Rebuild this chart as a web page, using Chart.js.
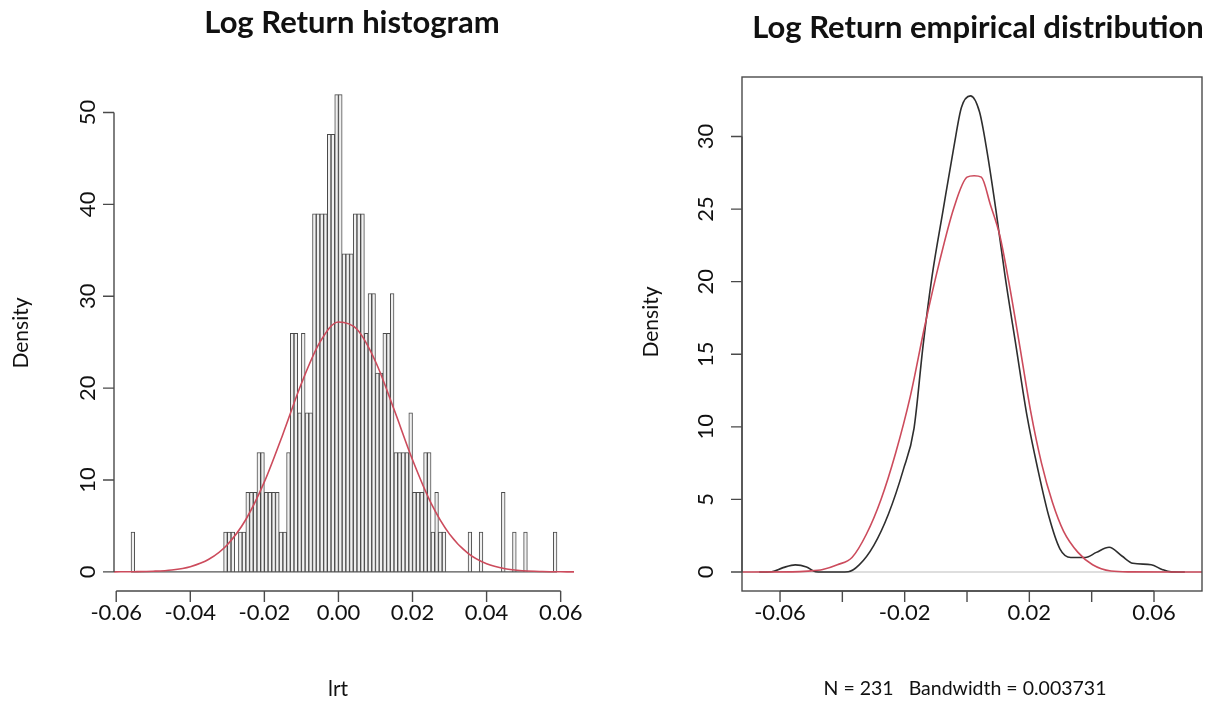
<!DOCTYPE html>
<html>
<head>
<meta charset="utf-8">
<title>Log Return</title>
<script src="https://cdn.jsdelivr.net/npm/chart.js@4/dist/chart.umd.min.js"></script>
<style>
  body { margin: 0; background: #fff; }
  #wrap { position: relative; width: 1216px; height: 704px; }
  .pane { position: absolute; top: 0; width: 608px; height: 704px; }
</style>
</head>
<body>
<div id="wrap">
  <div class="pane" style="left:0"><canvas id="histChart"></canvas></div>
  <div class="pane" style="left:608px"><canvas id="densChart"></canvas></div>
</div>
<script>
// ---- left panel: histogram of lrt (bins of 0.001 from -0.056) ----
const binStart = -0.056;
const binWidth = 0.001;
const histDensity = [
  4.33, 0, 0, 0, 0, 0, 0, 0, 0, 0, 0, 0, 0, 0, 0, 0, 0, 0, 0, 0, 0, 0, 0, 0, 0,
  4.33, 4.33, 4.33, 0, 4.33, 4.33, 8.66, 8.66, 8.66, 12.99, 12.99, 8.66, 8.66, 8.66, 8.66,
  4.33, 4.33, 12.99, 25.97, 25.97, 17.32, 25.97, 17.32, 17.32, 38.96, 38.96, 38.96, 38.96,
  47.62, 47.62, 51.95, 51.95, 34.63, 34.63, 34.63, 38.96, 38.96, 38.96, 25.97, 30.3, 30.3,
  21.65, 21.65, 25.97, 25.97, 30.3, 12.99, 12.99, 12.99, 12.99, 17.32, 8.66, 8.66, 8.66,
  12.99, 12.99, 4.33, 8.66, 4.33, 4.33,
  0, 0, 0, 0, 0, 0, 4.33, 0, 0, 4.33, 0, 0, 0, 0, 0, 8.66, 0, 0, 4.33, 0, 0, 4.33,
  0, 0, 0, 0, 0, 0, 0, 4.33
];
const binCenters = histDensity.map((_, i) => +(binStart + binWidth * (i + 0.5)).toFixed(4));

// red fitted normal curve over the histogram
const normX = [-0.0606, -0.055, -0.05, -0.045, -0.04, -0.035, -0.03, -0.025, -0.02, -0.015, -0.01, -0.005,
  0, 0.005, 0.01, 0.015, 0.02, 0.025, 0.03, 0.035, 0.04, 0.045, 0.05, 0.055, 0.06, 0.0636];
const normY = [0.004, 0.02, 0.07, 0.21, 0.57, 1.37, 2.96, 5.7, 9.79, 14.99, 20.5, 25.0,
  27.2, 26.4, 22.9, 17.7, 12.2, 7.49, 4.11, 2.01, 0.88, 0.34, 0.12, 0.04, 0.01, 0.005];

const histXTicks = [-0.06, -0.04, -0.02, 0, 0.02, 0.04, 0.06];
const histXLabels = ['-0.06', '-0.04', '-0.02', '0.00', '0.02', '0.04', '0.06'];
const histYTicks = [0, 10, 20, 30, 40, 50];

// ---- right panel: kernel density (black) and normal fit (red) ----
const kdeX = [-0.0667, -0.0627, -0.059, -0.0551, -0.0515, -0.0486, -0.044, -0.0381, -0.0346, -0.0299,
  -0.0252, -0.0205, -0.017, -0.0141, -0.0112, -0.0077, -0.0042, -0.0018, 0.0011, 0.004, 0.0064,
  0.0093, 0.0122, 0.0157, 0.0193, 0.0228, 0.0263, 0.0298, 0.0333, 0.038, 0.0415, 0.0456, 0.0497,
  0.0532, 0.0591, 0.0626, 0.0655, 0.0699];
const kdeY = [0, 0.02, 0.3, 0.49, 0.35, 0.02, 0, 0.02, 0.49, 1.84,
  4.0, 7.0, 9.9, 15.6, 20.4, 24.9, 29.3, 32.0, 32.8, 31.7, 29.0,
  24.9, 20.4, 15.6, 10.7, 7.0, 3.8, 1.6, 1.0, 1.0, 1.35, 1.7, 1.1,
  0.6, 0.5, 0.17, 0.01, 0];

const fitX = [-0.0722, -0.056, -0.051, -0.0463, -0.0416, -0.0369, -0.0323, -0.0276, -0.0229, -0.0182,
  -0.0135, -0.0088, -0.0042, 0, 0.0023, 0.0046, 0.0075, 0.0105, 0.0134, 0.0169, 0.0204, 0.0239,
  0.0274, 0.031, 0.0356, 0.0403, 0.0462, 0.052, 0.0754];
const fitY = [0, 0.01, 0.06, 0.17, 0.5, 1.0, 2.6, 5.0, 8.2, 12.1,
  17.0, 21.4, 25.1, 27.2, 27.3, 27.2, 25.3, 23.2, 20.0, 15.6, 11.1, 7.5,
  4.8, 2.8, 1.35, 0.5, 0.07, 0.01, 0];

const densXRange = [-0.0722, 0.0754];
const densXTicks = [-0.06, -0.04, -0.02, 0, 0.02, 0.04, 0.06];
const densXLabels = ['-0.06', '', '-0.02', '', '0.02', '', '0.06'];
const densYTicks = [0, 5, 10, 15, 20, 25, 30];

const FONT = "Lato, 'Open Sans', sans-serif";
const toPts = (xs, ys) => xs.map((x, i) => ({ x, y: ys[i] }));

// R-like axes, titles and labels, drawn at the scale positions
function rAxes(cfg) {
  return {
    id: 'rAxes',
    afterDraw(chart) {
      const { ctx, chartArea: a, scales: { x, y } } = chart;
      ctx.save();
      ctx.strokeStyle = '#4a4a4a';
      ctx.lineWidth = 1.4;
      ctx.fillStyle = '#111';

      if (cfg.box) ctx.strokeRect(a.left, a.top, a.right - a.left, a.bottom - a.top);

      // y axis
      const yTop = y.getPixelForValue(cfg.yTicks[cfg.yTicks.length - 1]);
      const yBot = y.getPixelForValue(cfg.yTicks[0]);
      ctx.beginPath();
      ctx.moveTo(a.left, yTop); ctx.lineTo(a.left, yBot);
      cfg.yTicks.forEach(v => {
        const py = y.getPixelForValue(v);
        ctx.moveTo(a.left, py); ctx.lineTo(a.left - 11, py);
      });
      // x axis
      const xl = x.getPixelForValue(cfg.xTicks[0]);
      const xr = x.getPixelForValue(cfg.xTicks[cfg.xTicks.length - 1]);
      ctx.moveTo(xl, a.bottom); ctx.lineTo(xr, a.bottom);
      cfg.xTicks.forEach(v => {
        const px = x.getPixelForValue(v);
        ctx.moveTo(px, a.bottom); ctx.lineTo(px, a.bottom + 11);
      });
      ctx.stroke();

      ctx.font = '22px ' + FONT;
      ctx.textAlign = 'center';
      ctx.textBaseline = 'middle';
      cfg.yTicks.forEach(v => {
        ctx.save();
        ctx.translate(a.left - cfg.yLabelGap, y.getPixelForValue(v));
        ctx.rotate(-Math.PI / 2);
        ctx.fillText(String(v), 0, 0);
        ctx.restore();
      });
      cfg.xTicks.forEach((v, i) => {
        if (cfg.xLabels[i]) ctx.fillText(cfg.xLabels[i], x.getPixelForValue(v), a.bottom + 22);
      });

      // axis titles
      ctx.font = '21px ' + FONT;
      ctx.save();
      ctx.translate(cfg.yTitleX, (a.top + a.bottom) / 2 + cfg.yTitleDy);
      ctx.rotate(-Math.PI / 2);
      ctx.fillText('Density', 0, 0);
      ctx.restore();
      ctx.font = cfg.xTitleSize + 'px ' + FONT;
      ctx.fillText(cfg.xTitle, cfg.xTitleX, 689);

      ctx.font = 'bold 31px ' + FONT;
      ctx.fillText(cfg.title, cfg.titleX, cfg.titleY);
      ctx.restore();
    }
  };
}

const common = {
  animation: false,
  responsive: true,
  maintainAspectRatio: false,
  plugins: { legend: { display: false }, tooltip: { enabled: false } }
};

new Chart(document.getElementById('histChart'), {
  type: 'bar',
  data: {
    datasets: [
      {
        type: 'line', data: toPts(normX, normY), order: 0,
        borderColor: '#cc4b5c', borderWidth: 1.6, pointRadius: 0, cubicInterpolationMode: 'monotone'
      },
      {
        type: 'line', data: toPts([binStart, binStart + binWidth * histDensity.length], [0, 0]), order: 1,
        borderColor: '#555', borderWidth: 1.2, pointRadius: 0
      },
      {
        type: 'bar', data: toPts(binCenters, histDensity), order: 2,
        backgroundColor: '#f0f0f0', borderColor: '#4a4a4a', borderWidth: 1,
        barPercentage: 1, categoryPercentage: 1
      }
    ]
  },
  options: {
    ...common,
    layout: { padding: { left: 114, right: 34, top: 75, bottom: 113 } },
    scales: {
      x: { type: 'linear', min: -0.0606, max: 0.0636, offset: false, display: false },
      y: { min: -2.08, max: 54.08, display: false }
    }
  },
  plugins: [rAxes({
    box: false, yTicks: histYTicks, xTicks: histXTicks, xLabels: histXLabels,
    yLabelGap: 26, yTitleX: 21, yTitleDy: 0, xTitle: 'lrt', xTitleX: 338, xTitleSize: 21,
    title: 'Log Return histogram', titleX: 352, titleY: 23
  })]
});

new Chart(document.getElementById('densChart'), {
  type: 'line',
  data: {
    datasets: [
      {
        data: toPts(fitX, fitY), order: 0,
        borderColor: '#cc4b5c', borderWidth: 1.6, pointRadius: 0, cubicInterpolationMode: 'monotone'
      },
      {
        data: toPts(kdeX, kdeY), order: 1,
        borderColor: '#2e2e2e', borderWidth: 1.6, pointRadius: 0, cubicInterpolationMode: 'monotone'
      },
      {
        data: toPts(densXRange, [0, 0]), order: 2,
        borderColor: '#bdbdbd', borderWidth: 1.2, pointRadius: 0
      }
    ]
  },
  options: {
    ...common,
    layout: { padding: { left: 134, right: 14, top: 77, bottom: 113 } },
    scales: {
      x: { type: 'linear', min: densXRange[0], max: densXRange[1], display: false },
      y: { min: -1.31, max: 34.1, display: false }
    }
  },
  plugins: [rAxes({
    box: true, yTicks: densYTicks, xTicks: densXTicks, xLabels: densXLabels,
    yLabelGap: 36, yTitleX: 43, yTitleDy: -12, xTitle: 'N = 231   Bandwidth = 0.003731', xTitleX: 357, xTitleSize: 19.5,
    title: 'Log Return empirical distribution', titleX: 370, titleY: 28
  })]
});
</script>
</body>
</html>
